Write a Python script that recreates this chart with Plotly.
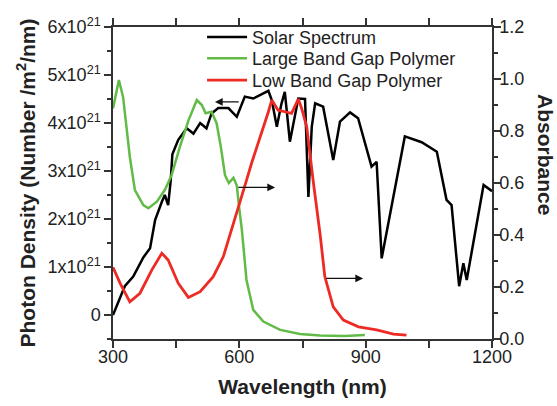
import numpy as np
import plotly.graph_objects as go

# ---- data ----
# Solar spectrum: wavelength (nm), photon density in units of 1e21 /m^2/nm
solar_wl = [300, 328, 348, 372, 388, 400, 416, 423, 431, 437, 441, 455, 475, 491, 507, 522,
            534, 550, 574, 594, 613, 633, 669, 677, 689, 700, 708, 720, 740, 756, 764, 772,
            780, 799, 823, 839, 863, 882, 914, 926, 938, 993, 1033, 1069, 1092, 1104, 1122,
            1132, 1140, 1180, 1200]
solar_pd = [0.0, 0.6, 0.8, 1.2, 1.39, 1.98, 2.36, 2.5, 2.29, 2.8, 3.35, 3.65, 3.89, 3.78, 4.0, 3.89,
            4.2, 4.31, 4.31, 4.13, 4.55, 4.51, 4.67, 4.48, 3.92, 4.4, 4.65, 3.61, 4.51, 4.5, 2.46, 3.92,
            4.41, 4.34, 3.23, 4.03, 4.22, 4.1, 3.09, 3.19, 1.18, 3.72, 3.6, 3.40, 2.4, 2.29, 0.6,
            1.08, 0.73, 2.71, 2.58]

# Large band gap polymer absorbance
large_wl = [300, 314, 324, 332, 340, 352, 372, 384, 404, 423, 439, 459, 479, 499, 511, 520,
            534, 546, 556, 566, 575, 586, 594, 600, 606, 617, 633, 657, 697, 744, 792, 850, 898]
large_abs = [0.887, 0.996, 0.93, 0.82, 0.70, 0.573, 0.515, 0.503, 0.528, 0.573, 0.63, 0.74, 0.84, 0.919, 0.9, 0.868,
             0.874, 0.83, 0.74, 0.63, 0.60, 0.62, 0.59, 0.5, 0.42, 0.227, 0.112, 0.067, 0.035, 0.019, 0.013, 0.012, 0.015]

# Low band gap polymer absorbance
low_wl = [300, 317, 340, 364, 392, 416, 431, 455, 479, 507, 538, 562, 586, 602, 617, 629,
          653, 669, 677, 692, 708, 724, 740, 748, 760, 768, 776, 792, 803, 823, 847, 883,
          926, 966, 997]
low_abs = [0.276, 0.214, 0.143, 0.176, 0.265, 0.33, 0.304, 0.214, 0.16, 0.182, 0.24, 0.317, 0.445, 0.535, 0.61, 0.676,
           0.79, 0.874, 0.919, 0.88, 0.874, 0.868, 0.923, 0.887, 0.816, 0.70, 0.60, 0.40, 0.24, 0.124, 0.073, 0.047,
           0.035, 0.019, 0.015]

series_names = ["Solar Spectrum", "Large Band Gap Polymer", "Low Band Gap Polymer"]
left_tick_vals = [0, 1, 2, 3, 4, 5, 6]
left_tick_text = ["0"] + [f"{k}x10<sup>21</sup>" for k in left_tick_vals[1:]]

FONT = "Arial, Liberation Sans, sans-serif"
TXT = "#222222"

fig = go.Figure()
fig.add_trace(go.Scatter(x=solar_wl, y=np.array(solar_pd) * 1e21, mode="lines",
                         name=series_names[0], line=dict(color="#000000", width=2.5),
                         yaxis="y", legend="legend"))
fig.add_trace(go.Scatter(x=large_wl, y=large_abs, mode="lines", name=series_names[1],
                         line=dict(color="#62BB46", width=2.5), yaxis="y2", legend="legend2"))
fig.add_trace(go.Scatter(x=low_wl, y=low_abs, mode="lines", name=series_names[2],
                         line=dict(color="#EE2A24", width=2.8), yaxis="y2", legend="legend3"))

axis_common = dict(showline=True, linecolor="#333333", linewidth=1.5, ticks="outside",
                   tickcolor="#333333", tickwidth=1.5, ticklen=7, showgrid=False, zeroline=False,
                   automargin=False, tickfont=dict(family=FONT, size=18, color=TXT))

def legend_at(ypos):
    return dict(x=0.235, y=ypos, xanchor="left", yanchor="top", bgcolor="rgba(0,0,0,0)",
                font=dict(family=FONT, size=18, color=TXT), itemwidth=40)

fig.update_layout(
    width=557, height=406,
    margin=dict(l=113, r=65, t=27, b=67),
    paper_bgcolor="white", plot_bgcolor="white",
    font=dict(family=FONT, color=TXT),
    showlegend=True,
    legend=legend_at(1.026),
    legend2=legend_at(0.958),
    legend3=legend_at(0.888),
    xaxis=dict(range=[300, 1200], tickvals=[300, 600, 900, 1200], mirror="allticks", ticklabelstandoff=-6,
               minor=dict(ticks="outside", ticklen=4, tickcolor="#333333", tickwidth=1.5, dtick=150, tick0=300),
               title=dict(text="<b>Wavelength (nm)</b>", font=dict(family=FONT, size=21, color=TXT), standoff=13),
               **axis_common),
    yaxis=dict(range=[-0.5e21, 6e21], tickvals=[v * 1e21 for v in left_tick_vals], ticktext=left_tick_text,
               minor=dict(ticks="outside", ticklen=4, tickcolor="#333333", tickwidth=1.5, dtick=0.5e21, tick0=0),
               title=dict(text="<b>Photon Density (Number /m<sup>2</sup>/nm)</b>",
                          font=dict(family=FONT, size=21, color=TXT), standoff=6),
               **axis_common),
    yaxis2=dict(range=[0, 1.2], overlaying="y", side="right", tickvals=[0, 0.2, 0.4, 0.6, 0.8, 1.0, 1.2],
                tickformat=".1f", ticklabelstandoff=-5,
                minor=dict(ticks="outside", ticklen=4, tickcolor="#333333", tickwidth=1.5, dtick=0.1, tick0=0),
                **axis_common),
)

# right axis title (reads top-to-bottom)
fig.add_annotation(text="<b>Absorbance</b>", xref="paper", yref="paper", x=1.175, y=0.59,
                   textangle=90, showarrow=False, font=dict(family=FONT, size=21, color=TXT))

# arrows indicating which axis each curve belongs to
arrows = [
    dict(x=542, y=4.44e21, ax=602, ay=4.44e21, yref="y", ayref="y"),
    dict(x=685, y=0.583, ax=594, ay=0.583, yref="y2", ayref="y2"),
    dict(x=894, y=0.233, ax=803, ay=0.233, yref="y2", ayref="y2"),
]
for a in arrows:
    fig.add_annotation(x=a["x"], y=a["y"], ax=a["ax"], ay=a["ay"], xref="x", axref="x",
                       yref=a["yref"], ayref=a["ayref"], showarrow=True, arrowhead=2,
                       arrowsize=1.2, arrowwidth=1.3, arrowcolor="#111111", text="")

fig.write_html("out.html")
